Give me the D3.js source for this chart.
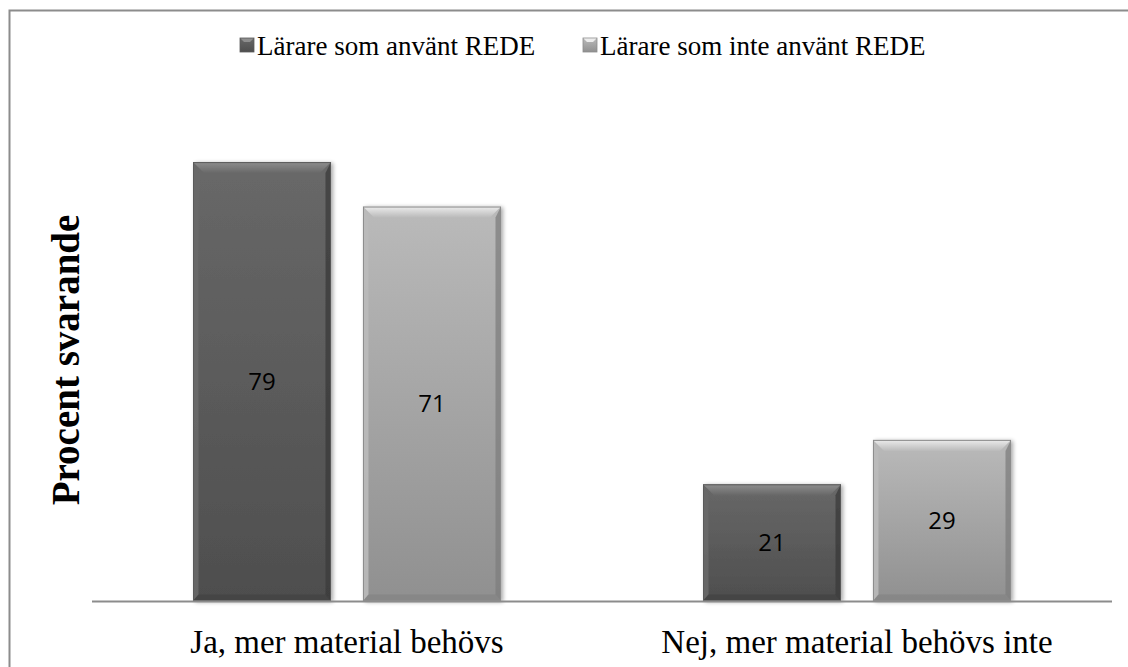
<!DOCTYPE html>
<html>
<head>
<meta charset="utf-8">
<script src="https://cdn.jsdelivr.net/npm/d3@7"></script>
<style>
  body { margin: 0; background: #fff; }
  svg { display: block; }
</style>
</head>
<body>
<svg id="chart"></svg>
<script>
// data
const categories = ["Ja, mer material behövs", "Nej, mer material behövs inte"];
const series = ["Lärare som använt REDE", "Lärare som inte använt REDE"];
const usedRede = [79, 21];
const notUsedRede = [71, 29];

const W = 1128, H = 667;
const svg = d3.select("#chart").attr("width", W).attr("height", H);

// colours per series
const palette = {
  "Lärare som använt REDE":      { top: "#686868", bot: "#4e4e4e", light: "#8e8e8e", dark: "#3a3a3a", edge: "#5a5a5a" },
  "Lärare som inte använt REDE": { top: "#bababa", bot: "#909090", light: "#ececec", dark: "#7e7e7e", edge: "#8c8c8c" }
};

const rows = [];
categories.forEach((c, i) => {
  rows.push({ cat: c, ser: series[0], val: usedRede[i] });
  rows.push({ cat: c, ser: series[1], val: notUsedRede[i] });
});

const plot = { left: 92, right: 1112, base: 601 };

const x0 = d3.scaleBand().domain(categories).range([plot.left, plot.right]).padding(0);
const x1 = d3.scaleBand().domain(series).range([101, 409]).paddingInner(0.188).paddingOuter(0);
const y = d3.scaleLinear().domain([0, 90]).range([plot.base, 101]);

const serif = "'Liberation Serif', 'Times New Roman', serif";

const defs = svg.append("defs");
Object.entries(palette).forEach(([k, p], i) => {
  const g = defs.append("linearGradient").attr("id", "body" + i)
    .attr("x1", 0).attr("y1", 0).attr("x2", 0).attr("y2", 1);
  g.append("stop").attr("offset", "0%").attr("stop-color", p.top);
  g.append("stop").attr("offset", "100%").attr("stop-color", p.bot);
  const t = defs.append("linearGradient").attr("id", "topbev" + i)
    .attr("x1", 0).attr("y1", 0).attr("x2", 0).attr("y2", 1);
  t.append("stop").attr("offset", "0%").attr("stop-color", p.light);
  t.append("stop").attr("offset", "100%").attr("stop-color", p.top);
  p.idx = i;
});

const shadow = defs.append("filter").attr("id", "shadow")
  .attr("x", "-10%").attr("y", "-10%").attr("width", "125%").attr("height", "125%");
shadow.append("feGaussianBlur").attr("in", "SourceAlpha").attr("stdDeviation", 2);
shadow.append("feOffset").attr("dx", 2).attr("dy", 1).attr("result", "b");
shadow.append("feComponentTransfer").append("feFuncA").attr("type", "linear").attr("slope", 0.35);
const merge = shadow.append("feMerge");
merge.append("feMergeNode");
merge.append("feMergeNode").attr("in", "SourceGraphic");

// outer frame (runs off right and bottom)
svg.append("path")
  .attr("d", `M9.5,${H + 5} V10.5 H${W + 5}`)
  .attr("fill", "none").attr("stroke", "#8c8c8c").attr("stroke-width", 2);

// legend
const legend = svg.append("g").attr("font-family", serif)
  .attr("font-size", 27).attr("fill", "#000");
const legendX = [240, 583];
series.forEach((s, i) => {
  const p = palette[s];
  const g = legend.append("g").attr("transform", `translate(${legendX[i]},45)`);
  g.append("rect").attr("x", 0).attr("y", -7).attr("width", 14).attr("height", 14)
    .attr("fill", `url(#body${p.idx})`).attr("stroke", p.edge).attr("stroke-width", 0.8);
  g.append("path").attr("d", "M0.5,-6.5 L13.5,-6.5 L10,-3 L4,-3 Z").attr("fill", p.light);
  g.append("text").attr("x", 17).attr("y", 10).text(s);
});

// bars
const bars = svg.append("g").selectAll("g.bar").data(rows).join("g")
  .attr("class", "bar")
  .attr("filter", "url(#shadow)");

const bev = 11;
bars.each(function(d) {
  const g = d3.select(this);
  const p = palette[d.ser];
  const x = x0(d.cat) + x1(d.ser), w = x1.bandwidth();
  const yt = y(d.val), yb = y(0), h = yb - yt;
  g.append("rect").attr("x", x).attr("y", yt).attr("width", w).attr("height", h)
    .attr("fill", `url(#body${p.idx})`);
  // top bevel
  g.append("path").attr("d", `M${x},${yt} L${x + w},${yt} L${x + w - bev},${yt + bev} L${x + bev},${yt + bev} Z`)
    .attr("fill", `url(#topbev${p.idx})`);
  // left bevel
  g.append("path").attr("d", `M${x},${yt} L${x + bev * 0.5},${yt + bev} L${x + bev * 0.5},${yb - bev * 0.6} L${x},${yb} Z`)
    .attr("fill", p.top).attr("opacity", 0.9);
  // right bevel
  g.append("path").attr("d", `M${x + w},${yt} L${x + w - bev * 0.5},${yt + bev} L${x + w - bev * 0.5},${yb - bev * 0.6} L${x + w},${yb} Z`)
    .attr("fill", p.dark).attr("opacity", 0.75);
  // bottom bevel
  g.append("path").attr("d", `M${x},${yb} L${x + bev * 0.5},${yb - bev * 0.6} L${x + w - bev * 0.5},${yb - bev * 0.6} L${x + w},${yb} Z`)
    .attr("fill", p.dark).attr("opacity", 0.5);
  g.append("rect").attr("x", x + 0.5).attr("y", yt + 0.5).attr("width", w - 1).attr("height", h - 1)
    .attr("fill", "none").attr("stroke", p.edge).attr("stroke-width", 1);
});

// value labels
svg.append("g").selectAll("text").data(rows).join("text")
  .attr("x", d => x0(d.cat) + x1(d.ser) + x1.bandwidth() / 2)
  .attr("y", d => (y(d.val) + y(0)) / 2)
  .attr("dy", "0.35em")
  .attr("text-anchor", "middle")
  .attr("font-family", "'Open Sans', 'Noto Sans', sans-serif")
  .attr("font-size", 24)
  .attr("fill", "#000")
  .text(d => d.val);

// baseline
svg.append("line").attr("x1", plot.left).attr("x2", plot.right)
  .attr("y1", plot.base + 0.5).attr("y2", plot.base + 0.5)
  .attr("stroke", "#8c8c8c").attr("stroke-width", 2);

// category axis (no ticks)
const xAxis = svg.append("g").attr("transform", `translate(0,${plot.base})`)
  .call(d3.axisBottom(x0).tickSize(0).tickPadding(0));
xAxis.select(".domain").remove();
xAxis.selectAll("text")
  .attr("y", 52)
  .attr("dy", 0)
  .attr("font-family", serif)
  .attr("font-size", 33)
  .attr("fill", "#000");

// y title
svg.append("text")
  .attr("transform", "translate(79,360) rotate(-90)")
  .attr("text-anchor", "middle")
  .attr("font-family", serif)
  .attr("font-weight", "bold")
  .attr("font-size", 39)
  .attr("fill", "#000")
  .text("Procent svarande");
</script>
</body>
</html>
